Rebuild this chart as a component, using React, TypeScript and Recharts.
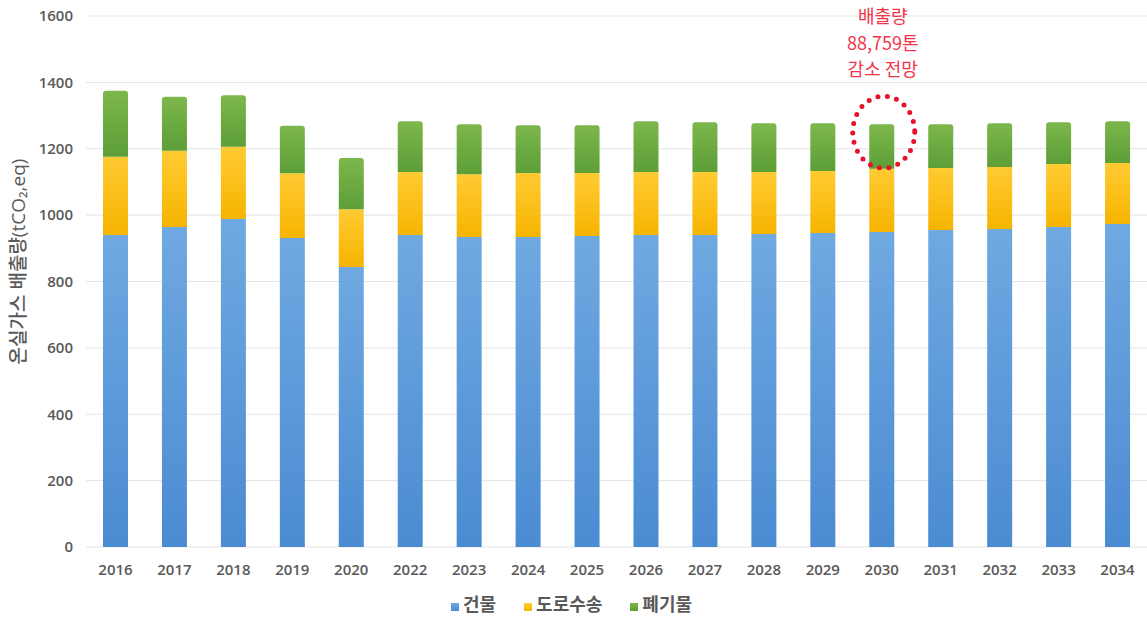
import React from 'react';
import {
  BarChart,
  Bar,
  XAxis,
  YAxis,
  CartesianGrid,
  Legend,
  ReferenceDot,
} from 'recharts';

const years = [
  '2016', '2017', '2018', '2019', '2020', '2022', '2023', '2024', '2025',
  '2026', '2027', '2028', '2029', '2030', '2031', '2032', '2033', '2034',
];
const building = [940, 964, 988, 931, 844, 940, 934, 934, 937, 940, 940, 943, 946, 949, 955, 958, 964, 973];
const roadTransport = [236, 230, 218, 195, 174, 190, 189, 193, 190, 190, 190, 187, 187, 191, 187, 187, 190, 184];
const waste = [199, 163, 155, 143, 154, 153, 151, 144, 144, 153, 150, 147, 144, 134, 132, 132, 126, 126];
const yTicks = [0, 200, 400, 600, 800, 1000, 1200, 1400, 1600];

const seriesNames = { building: '건물', road: '도로수송', waste: '폐기물' };
const annotationYear = '2030';
const annotationLines = ['배출량', '88,759톤', '감소 전망'];

const data = years.map((year, i) => ({
  year,
  building: building[i],
  road: roadTransport[i],
  waste: waste[i],
}));

const annotationIdx = years.indexOf(annotationYear);
const annotationTotal =
  building[annotationIdx] + roadTransport[annotationIdx] + waste[annotationIdx];

const FONT = "'Open Sans', 'Noto Sans CJK KR', sans-serif";
const TEXT_GRAY = '#595959';

const AnnotationShape = (props: any) => {
  const { cx, cy } = props;
  if (cx == null || cy == null) return null;
  return (
    <g>
      <ellipse
        cx={cx + 2}
        cy={cy + 8}
        rx={31}
        ry={36}
        fill="none"
        stroke="#e8102a"
        strokeWidth={5}
        strokeDasharray="0 9.5"
        strokeLinecap="round"
      />
      {annotationLines.map((line, i) => (
        <text
          key={line}
          x={cx + 1}
          y={cy - 101 + i * 26.5}
          textAnchor="middle"
          fill="#f2354a"
          fontSize={18}
          fontFamily="'Noto Sans CJK KR', sans-serif"
        >
          {line}
        </text>
      ))}
    </g>
  );
};

const YLabel = (props: any) => {
  const { viewBox } = props;
  const x = 18;
  const y = viewBox.y + viewBox.height / 2 - 20;
  return (
    <text
      x={x}
      y={y}
      transform={`rotate(-90 ${x} ${y})`}
      textAnchor="middle"
      dominantBaseline="central"
      fill={TEXT_GRAY}
      fontSize={19}
      fontWeight={500}
      fontFamily={FONT}
    >
      온실가스 배출량(tCO₂,eq)
    </text>
  );
};

export default function App() {
  return (
    <div style={{ position: 'fixed', left: 0, top: 0, width: 1147, height: 627, background: '#fff' }}>
      <BarChart
        width={1147}
        height={627}
        data={data}
        margin={{ top: 16, right: 0, bottom: 8, left: 0 }}
        barSize={25}
      >
        <defs>
          <linearGradient id="gBlue" x1="0" y1="0" x2="0" y2="1">
            <stop offset="0%" stopColor="#6fa9e1" />
            <stop offset="100%" stopColor="#4b8bd2" />
          </linearGradient>
          <linearGradient id="gYellow" x1="0" y1="0" x2="0" y2="1">
            <stop offset="0%" stopColor="#ffcb33" />
            <stop offset="100%" stopColor="#f6b400" />
          </linearGradient>
          <linearGradient id="gGreen" x1="0" y1="0" x2="0" y2="1">
            <stop offset="0%" stopColor="#7cb74c" />
            <stop offset="100%" stopColor="#5d9e37" />
          </linearGradient>
        </defs>
        <CartesianGrid vertical={false} stroke="#e4e4e4" />
        <XAxis
          dataKey="year"
          height={42}
          axisLine={false}
          tickLine={false}
          tickSize={0}
          tickMargin={17}
          interval={0}
          tick={{ fill: TEXT_GRAY, fontSize: 15, fontWeight: 600, fontFamily: FONT }}
        />
        <YAxis
          width={86}
          domain={[0, 1600]}
          ticks={yTicks}
          axisLine={false}
          tickLine={false}
          tickSize={0}
          tickMargin={13}
          tick={{ fill: TEXT_GRAY, fontSize: 15, fontWeight: 600, fontFamily: FONT }}
          label={<YLabel />}
        />
        <Legend
          verticalAlign="bottom"
          iconType="square"
          iconSize={8}
          wrapperStyle={{ height: 30, lineHeight: '30px', fontFamily: FONT, paddingLeft: 12 }}
          formatter={(value: string) => (
            <span style={{ color: TEXT_GRAY, fontSize: 18, fontWeight: 600, marginRight: 18 }}>{value}</span>
          )}
        />
        <Bar
          dataKey="building"
          name={seriesNames.building}
          stackId="a"
          fill="url(#gBlue)"
          isAnimationActive={false}
        />
        <Bar
          dataKey="road"
          name={seriesNames.road}
          stackId="a"
          fill="url(#gYellow)"
          isAnimationActive={false}
        />
        <Bar
          dataKey="waste"
          name={seriesNames.waste}
          stackId="a"
          fill="url(#gGreen)"
          radius={[3, 3, 0, 0]}
          isAnimationActive={false}
        />
        <ReferenceDot
          x={annotationYear}
          y={annotationTotal}
          r={1}
          ifOverflow="visible"
          shape={AnnotationShape}
        />
      </BarChart>
    </div>
  );
}
